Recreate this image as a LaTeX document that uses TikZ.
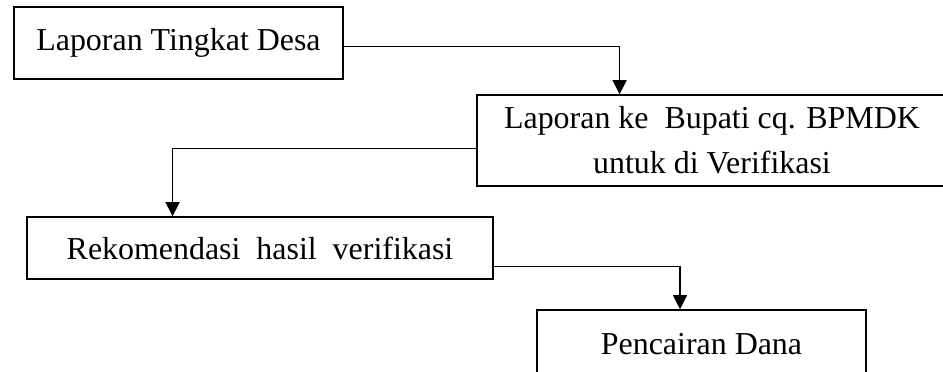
\documentclass[tikz,border=0pt]{standalone}
\usepackage{fontspec}
\setmainfont{Liberation Serif}
\usetikzlibrary{calc,arrows.meta}

\begin{document}
\begin{tikzpicture}[
  x=0.025cm, y=-0.025cm,
  every node/.style={font=\fontsize{22.7}{32}\selectfont},
  stage/.style={rectangle, draw, line width=1.1pt, inner sep=0pt, align=center},
  flow/.style={draw, line width=0.8pt, -{Triangle[width=10pt,length=10pt]}}
]
\useasboundingbox (0,0) rectangle (943,371);

\node[stage, minimum width=329*0.025cm, minimum height=72*0.025cm] (desa) at (178.5,43) {Laporan Tingkat Desa};
\node[stage, minimum width=470*0.025cm, minimum height=91*0.025cm] (bupati) at (712,140.5)
  {Laporan ke\ \ Bupati cq. BPMDK\\ untuk di Verifikasi};
\node[stage, minimum width=466*0.025cm, minimum height=62*0.025cm] (rekom) at (260,248) {Rekomendasi\ \ hasil\ \ verifikasi};
\node[stage, minimum width=329*0.025cm, minimum height=68*0.025cm] (dana) at (701.5,344) {Pencairan Dana};

% connectors between the stages
\draw[flow] ($(desa.north east)!0.55!(desa.south east)$) -| ($(bupati.north west)!0.304!(bupati.north east)$);
\draw[flow] ($(bupati.north west)!0.59!(bupati.south west)$) -| ($(rekom.north west)!0.313!(rekom.north east)$);
\draw[flow] ($(rekom.north east)!0.79!(rekom.south east)$) -| ($(dana.north west)!0.435!(dana.north east)$);
\end{tikzpicture}
\end{document}
